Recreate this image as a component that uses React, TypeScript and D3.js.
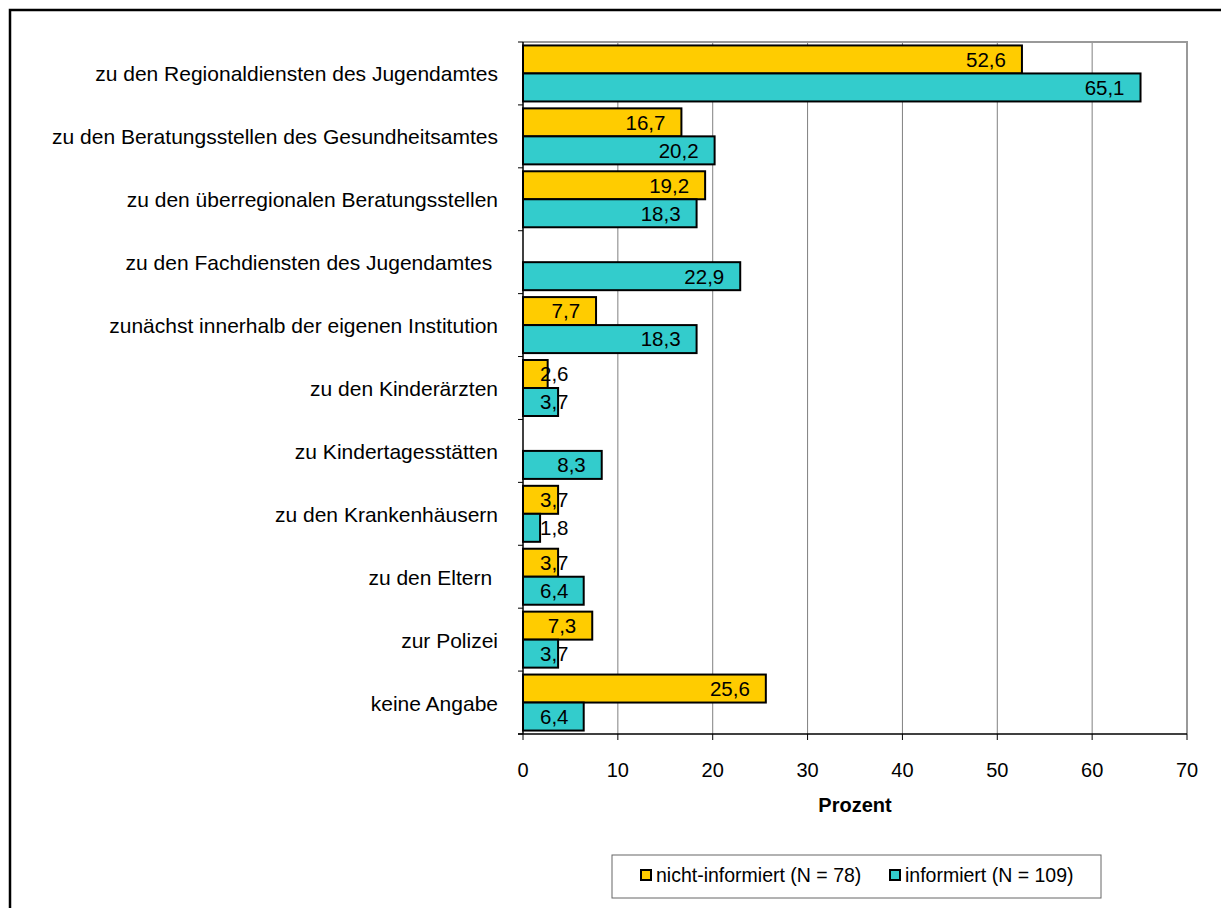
import React from "react";
import * as d3 from "d3";

const categories: string[] = [
  "zu den Regionaldiensten des Jugendamtes",
  "zu den Beratungsstellen des Gesundheitsamtes",
  "zu den überregionalen Beratungsstellen",
  "zu den Fachdiensten des Jugendamtes ",
  "zunächst innerhalb der eigenen Institution",
  "zu den Kinderärzten",
  "zu Kindertagesstätten",
  "zu den Krankenhäusern",
  "zu den Eltern ",
  "zur Polizei",
  "keine Angabe",
];

const nichtInformiert: (number | null)[] = [52.6, 16.7, 19.2, null, 7.7, 2.6, null, 3.7, 3.7, 7.3, 25.6];
const informiert: (number | null)[] = [65.1, 20.2, 18.3, 22.9, 18.3, 3.7, 8.3, 1.8, 6.4, 3.7, 6.4];

const seriesNames = ["nicht-informiert (N = 78)", "informiert (N = 109)"];
const seriesColors = ["#FFCC00", "#33CCCC"];
const xTicks = [0, 10, 20, 30, 40, 50, 60, 70];
const xTitle = "Prozent";

const W = 1221;
const H = 908;
const plot = { left: 523, right: 1187, top: 42, bottom: 734 };
const FONT = "'Liberation Sans', Arial, sans-serif";
const FS_CAT = 21;
const FS_VAL = 20.5;
const FS_TICK = 20;
const FS_LEG = 19.5;

// Arial-metric advance widths for the characters used in value labels
const charW: Record<string, number> = { ",": 0.278 };
const textWidth = (s: string) =>
  s.split("").reduce((a, c) => a + (charW[c] ?? 0.556), 0) * FS_VAL;

const fmt = (v: number) => v.toFixed(1).replace(".", ",");

export default function App() {
  const x = d3.scaleLinear().domain([0, 70]).range([plot.left, plot.right]);
  const y = d3
    .scaleBand<string>()
    .domain(categories)
    .range([plot.top, plot.bottom])
    .paddingInner(0)
    .paddingOuter(0);
  const bandH = y.bandwidth();
  const barH = 28;
  const groupOffset = (bandH - 2 * barH) / 2;
  const series = [nichtInformiert, informiert];

  const boundaries = d3.range(categories.length + 1).map((i) => plot.top + i * bandH);

  return (
    <svg
      width={W}
      height={H}
      style={{ position: "absolute", left: 0, top: 0, background: "#fff" }}
      fontFamily={FONT}
    >
      <rect x={0} y={0} width={W} height={H} fill="#fff" />
      {/* outer chart frame */}
      <rect x={10} y={10} width={W + 50} height={H + 50} fill="none" stroke="#000" strokeWidth={2.5} />

      {/* vertical gridlines */}
      {xTicks.slice(1, -1).map((t) => (
        <line key={"g" + t} x1={x(t)} x2={x(t)} y1={plot.top} y2={plot.bottom} stroke="#808080" strokeWidth={1} />
      ))}
      {/* plot area border (top, right) */}
      <path
        d={`M${plot.left},${plot.top}H${plot.right}V${plot.bottom}`}
        fill="none"
        stroke="#999"
        strokeWidth={2}
      />

      {/* bars */}
      {categories.map((c, i) =>
        series.map((s, k) => {
          const v = s[i];
          if (v == null) return null;
          const by = (y(c) as number) + groupOffset + k * barH;
          return (
            <rect
              key={c + k}
              x={x(0)}
              y={by}
              width={x(v) - x(0)}
              height={barH}
              fill={seriesColors[k]}
              stroke="#000"
              strokeWidth={2}
            />
          );
        })
      )}

      {/* value labels */}
      {categories.map((c, i) =>
        series.map((s, k) => {
          const v = s[i];
          if (v == null) return null;
          const label = fmt(v);
          const w = textWidth(label);
          const lx = Math.max(x(v) - 16 - w, x(0) + 17);
          const cy = (y(c) as number) + groupOffset + k * barH + barH / 2;
          return (
            <text key={"l" + c + k} x={lx} y={cy + FS_VAL * 0.36} fontSize={FS_VAL} fill="#000">
              {label}
            </text>
          );
        })
      )}

      {/* axes */}
      <line x1={plot.left} x2={plot.left} y1={plot.top} y2={plot.bottom} stroke="#000" strokeWidth={1.5} />
      {boundaries.map((b, i) => (
        <line key={"yt" + i} x1={plot.left - 5} x2={plot.left} y1={b} y2={b} stroke="#000" strokeWidth={1} />
      ))}
      <line x1={plot.left - 5} x2={plot.right} y1={plot.bottom} y2={plot.bottom} stroke="#000" strokeWidth={1.5} />
      {xTicks.map((t) => (
        <g key={"xt" + t}>
          <line x1={x(t)} x2={x(t)} y1={plot.bottom} y2={plot.bottom + 6} stroke="#000" strokeWidth={1} />
          <text x={x(t)} y={777} textAnchor="middle" fontSize={FS_TICK} fill="#000">
            {t}
          </text>
        </g>
      ))}
      <text x={(plot.left + plot.right) / 2} y={812} textAnchor="middle" fontSize={FS_TICK} fontWeight="bold" fill="#000">
        {xTitle}
      </text>

      {/* category labels */}
      {categories.map((c) => (
        <text
          key={"c" + c}
          x={498}
          y={(y(c) as number) + bandH / 2 + 8}
          textAnchor="end"
          fontSize={FS_CAT}
          fill="#000"
          style={{ whiteSpace: "pre" }}
        >
          {c}
        </text>
      ))}

      {/* legend */}
      <rect x={612} y={855} width={489} height={43} fill="#fff" stroke="#666" strokeWidth={1} />
      {seriesNames.map((n, k) => {
        const lx = k === 0 ? 641 : 890;
        return (
          <g key={"lg" + k}>
            <rect x={lx} y={870} width={10} height={10} fill={seriesColors[k]} stroke="#000" strokeWidth={2} />
            <text x={lx + 15} y={882} fontSize={FS_LEG} fill="#000">
              {n}
            </text>
          </g>
        );
      })}
    </svg>
  );
}
